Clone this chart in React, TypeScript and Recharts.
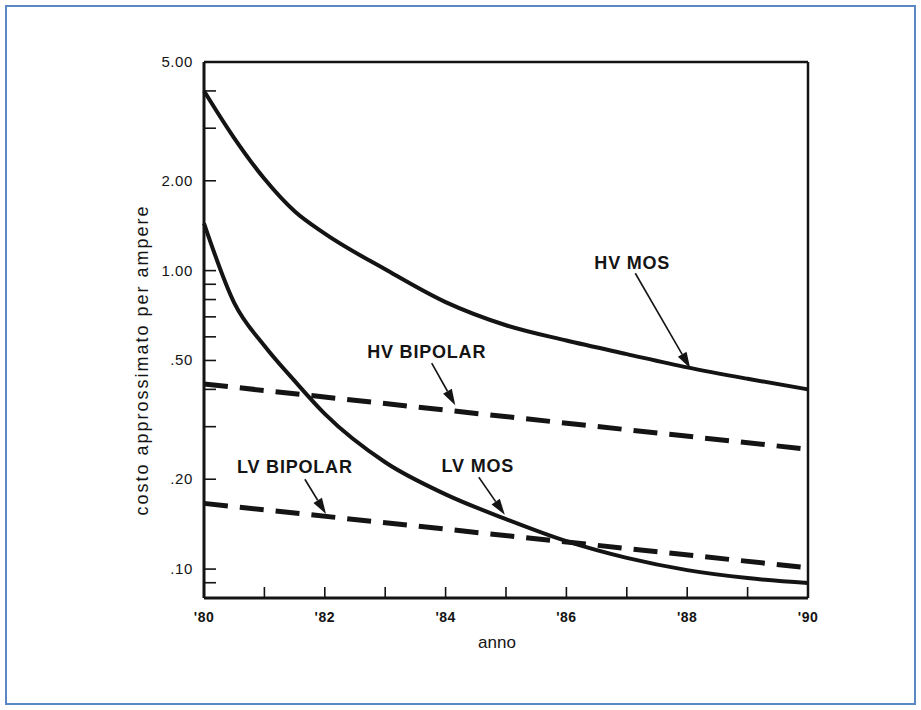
import { LineChart, Line, XAxis, YAxis, ReferenceLine, Label } from 'recharts';

// anni (half-years only where the MOS curves bend sharply)
const years = [1980, 1980.5, 1981, 1981.5, 1982, 1983, 1984, 1985, 1986, 1987, 1988, 1989, 1990];
const hvMosCost = [4.0, 2.78, 2.03, 1.58, 1.33, 1.01, 0.784, 0.656, 0.583, 0.525, 0.474, 0.434, 0.4];
const lvMosCost = [1.44, 0.78, 0.56, 0.427, 0.331, 0.228, 0.178, 0.147, 0.124, 0.109, 0.0992, 0.0933, 0.0898];

// bipolar curves are straight lines on the log scale
const bipolarYears = [1980, 1990];
const hvBipolarCost = [0.417, 0.252];
const lvBipolarCost = [0.166, 0.101];

const yTicks = [0.09, 0.1, 0.2, 0.3, 0.4, 0.5, 0.6, 0.7, 0.8, 0.9, 1, 2, 3, 4, 5];
const yLabelValues = [5, 2, 1, 0.5, 0.2, 0.1];
const yLabelTexts = ['5.00', '2.00', '1.00', '.50', '.20', '.10'];

const xTicks = [1980, 1981, 1982, 1983, 1984, 1985, 1986, 1987, 1988, 1989, 1990];
const xLabelYears = [1980, 1982, 1984, 1986, 1988, 1990];

const annotationTexts = ['HV MOS', 'HV BIPOLAR', 'LV MOS', 'LV BIPOLAR'];
const annotationFrom = [[1987.14, 0.98], [1983.77, 0.49], [1984.55, 0.203], [1981.67, 0.2]];
const annotationTo = [[1988.05, 0.471], [1984.16, 0.354], [1984.98, 0.152], [1982.02, 0.153]];

const chartData = years.map((year, i) => {
  const b = bipolarYears.indexOf(year);
  return {
    year,
    hvMos: hvMosCost[i],
    lvMos: lvMosCost[i],
    hvBipolar: b >= 0 ? hvBipolarCost[b] : null,
    lvBipolar: b >= 0 ? lvBipolarCost[b] : null,
  };
});

const FONT = '"Liberation Sans", Arial, Helvetica, sans-serif';
const INK = '#141414';

// text offsets of each annotation label from its arrow start
const labelOffsets = [[-3, -4], [-5, -5], [-1, -5], [-10, -6]];

const YTick = (props: any) => {
  const { x, y, payload } = props;
  const idx = yLabelValues.indexOf(payload.value);
  return (
    <g>
      <line x1={x} y1={y} x2={x + 12} y2={y} stroke={INK} strokeWidth={1.6} />
      {idx >= 0 && (
        <text
          x={x - 11}
          y={y}
          dy={5}
          textAnchor="end"
          fontFamily={FONT}
          fontSize={15}
          letterSpacing={0.6}
          fill={INK}
        >
          {yLabelTexts[idx]}
        </text>
      )}
    </g>
  );
};

const XTick = (props: any) => {
  const { x, y, payload } = props;
  const show = xLabelYears.includes(payload.value);
  return (
    <g>
      <line x1={x} y1={y} x2={x} y2={y - 11} stroke={INK} strokeWidth={1.6} />
      {show && (
        <text
          x={x}
          y={y + 24}
          textAnchor="middle"
          fontFamily={FONT}
          fontSize={14}
          fontWeight="bold"
          letterSpacing={0.5}
          fill={INK}
        >
          {"'" + String(payload.value).slice(2)}
        </text>
      )}
    </g>
  );
};

const arrowShape = (text: string, dx: number, dy: number) => (props: any) => {
  const { x1, y1, x2, y2 } = props;
  const ang = Math.atan2(y2 - y1, x2 - x1);
  const len = 16;
  const half = 5;
  const bx = x2 - len * Math.cos(ang);
  const by = y2 - len * Math.sin(ang);
  const p1 = `${bx + half * Math.sin(ang)},${by - half * Math.cos(ang)}`;
  const p2 = `${bx - half * Math.sin(ang)},${by + half * Math.cos(ang)}`;
  return (
    <g>
      <line x1={x1} y1={y1} x2={bx} y2={by} stroke={INK} strokeWidth={1.6} />
      <polygon points={`${x2},${y2} ${p1} ${p2}`} fill={INK} />
      <text
        x={x1 + dx}
        y={y1 + dy}
        textAnchor="middle"
        fontFamily={FONT}
        fontSize={18}
        fontWeight="bold"
        letterSpacing={0.8}
        fill={INK}
      >
        {text}
      </text>
    </g>
  );
};

export default function App() {
  return (
    <div style={{ position: 'relative', width: 921, height: 710, background: '#fff' }}>
      <style>{'body{margin:0;background:#fff}'}</style>
      {/* blue page frame */}
      <div
        style={{
          position: 'absolute',
          left: 5,
          top: 5,
          width: 907,
          height: 696,
          border: '2px solid #5b87c5',
        }}
      />
      <LineChart
        width={921}
        height={710}
        data={chartData}
        margin={{ top: 62, right: 113, bottom: 52, left: 0 }}
        style={{ position: 'absolute', left: 0, top: 0 }}
      >
        <XAxis
          dataKey="year"
          type="number"
          domain={[1980, 1990]}
          ticks={xTicks}
          interval={0}
          height={60}
          tickLine={false}
          tickSize={0}
          tickMargin={0}
          tick={<XTick />}
          axisLine={{ stroke: INK, strokeWidth: 3 }}
        >
          <Label
            content={(p: any) => {
              const vb = p.viewBox || { x: 204, y: 598, width: 604 };
              return (
                <text
                  x={vb.x + vb.width / 2 - 9}
                  y={vb.y + 50}
                  textAnchor="middle"
                  fontFamily={FONT}
                  fontSize={17}
                  fill={INK}
                >
                  anno
                </text>
              );
            }}
          />
        </XAxis>
        <YAxis
          type="number"
          scale="log"
          domain={[0.08, 5]}
          allowDataOverflow
          ticks={yTicks}
          interval={0}
          width={204}
          tickLine={false}
          tickSize={0}
          tickMargin={0}
          tick={<YTick />}
          axisLine={{ stroke: INK, strokeWidth: 3 }}
        >
          <Label
            content={() => (
              <text
                x={148}
                y={360}
                transform="rotate(-90 148 360)"
                textAnchor="middle"
                fontFamily={FONT}
                fontSize={18}
                letterSpacing={2}
                fill={INK}
              >
                costo approssimato per ampere
              </text>
            )}
          />
        </YAxis>

        {/* top and right sides of the plot box */}
        <ReferenceLine y={5} stroke={INK} strokeWidth={2.5} />
        <ReferenceLine x={1990} stroke={INK} strokeWidth={2.5} />

        <Line
          dataKey="hvBipolar"
          type="linear"
          stroke={INK}
          strokeWidth={5}
          strokeDasharray="24 12"
          dot={false}
          connectNulls
          isAnimationActive={false}
        />
        <Line
          dataKey="lvBipolar"
          type="linear"
          stroke={INK}
          strokeWidth={5}
          strokeDasharray="24 12"
          dot={false}
          connectNulls
          isAnimationActive={false}
        />
        <Line
          dataKey="hvMos"
          type="monotone"
          stroke={INK}
          strokeWidth={4}
          dot={false}
          isAnimationActive={false}
        />
        <Line
          dataKey="lvMos"
          type="monotone"
          stroke={INK}
          strokeWidth={4}
          dot={false}
          isAnimationActive={false}
        />

        {annotationTexts.map((text, i) => (
          <ReferenceLine
            key={text}
            segment={[
              { x: annotationFrom[i][0], y: annotationFrom[i][1] },
              { x: annotationTo[i][0], y: annotationTo[i][1] },
            ]}
            shape={arrowShape(text, labelOffsets[i][0], labelOffsets[i][1])}
          />
        ))}
      </LineChart>
    </div>
  );
}
